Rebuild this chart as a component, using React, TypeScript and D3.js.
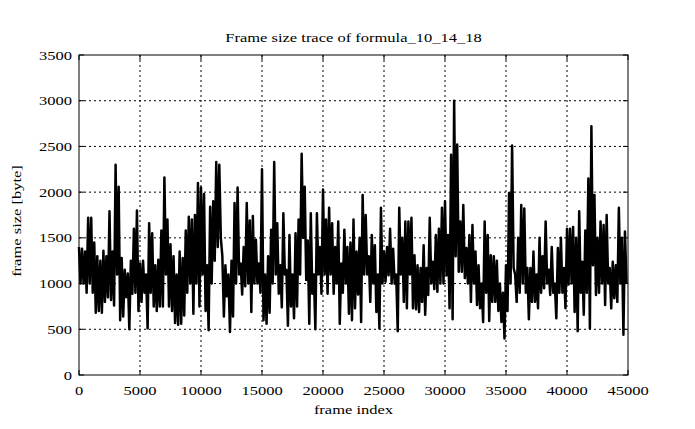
import React from 'react';
import * as d3 from 'd3';

const title = 'Frame size trace of formula_10_14_18';
const xLabel = 'frame index';
const yLabel = 'frame size [byte]';
const xTicks = [0, 5000, 10000, 15000, 20000, 25000, 30000, 35000, 40000, 45000];
const yTicks = [0, 500, 1000, 1500, 2000, 2500, 3000, 3500];

// The trace is read off the picture as, per block of 250 frames,
// the largest and the smallest frame size reached inside that block.
const blockFrames = 250;

const blockHigh = [
  1400, 1380, 1350, 1720, 1720, 1450, 1300, 1250, 1360, 1300,
  1790, 1350, 2300, 2060, 1280, 1150, 1110, 1250, 1600, 1800,
  1220, 1250, 1100, 1660, 1550, 1200, 1260, 1580, 2160, 1700,
  1430, 1300, 1100, 1350, 1280, 1580, 1730, 1700, 1750, 2100,
  2050, 1980, 1200, 1840, 1900, 2330, 2300, 1300, 1200, 1100,
  1250, 1880, 2050, 1220, 1400, 1880, 1690, 1740, 1480, 1220,
  2250, 1100, 1300, 1590, 2330, 1660, 1200, 1770, 1150, 1530,
  1100, 1550, 1700, 2420, 2060, 1470, 1770, 1100, 1770, 1400,
  2030, 1700, 1830, 1660, 1400, 1680, 1220, 1590, 1400, 1450,
  1700, 1350, 1500, 1970, 1750, 1300, 1530, 1420, 1100, 1830,
  1350, 1400, 1600, 1380, 1100, 1830, 1500, 1680, 1680, 1720,
  1310, 1200, 1170, 1420, 1170, 1720, 1240, 1530, 1600, 1830,
  1900, 1530, 2410, 3000, 2520, 1680, 1860, 1390, 1530, 1640,
  1350, 1200, 1000, 1680, 1530, 1310, 1300, 1250, 1000, 900,
  1200, 1990, 2510, 1100, 1500, 1860, 1820, 1170, 1170, 1350,
  1100, 1500, 1300, 1680, 1150, 1400, 1000, 1390, 1500, 1170,
  1600, 1600, 1620, 1500, 1790, 1240, 1580, 2150, 2720, 1970,
  1500, 1680, 1640, 1750, 1170, 1240, 1200, 1830, 1500, 1570,
];

const blockLow = [
  1000, 1000, 900, 1000, 900, 680, 700, 680, 800, 850,
  820, 760, 1100, 600, 640, 850, 500, 890, 900, 700,
  800, 900, 510, 900, 750, 700, 750, 750, 1100, 750,
  700, 570, 550, 560, 650, 900, 1000, 670, 1000, 750,
  1100, 700, 490, 1000, 1250, 1400, 1500, 640, 860, 470,
  640, 1000, 1100, 880, 970, 1000, 690, 1000, 1000, 900,
  600, 560, 680, 1000, 1100, 890, 740, 1100, 540, 750,
  620, 750, 1100, 1500, 1040, 560, 890, 500, 1100, 890,
  1100, 890, 1100, 890, 1000, 560, 900, 1000, 670, 600,
  730, 880, 580, 1100, 1100, 800, 1000, 690, 510, 1000,
  1020, 1090, 1000, 1000, 480, 1100, 800, 730, 1100, 730,
  720, 690, 800, 660, 875, 1000, 940, 910, 1000, 1000,
  1090, 730, 610, 1300, 1130, 1130, 1060, 1000, 800, 1000,
  765, 730, 580, 900, 590, 800, 800, 700, 580, 400,
  700, 1000, 1170, 800, 900, 1000, 900, 610, 800, 800,
  730, 900, 950, 1000, 875, 900, 620, 900, 900, 730,
  990, 1000, 690, 480, 900, 660, 900, 510, 1200, 875,
  900, 1000, 765, 1000, 729, 840, 800, 1000, 440, 1000,
];

const FONT = '"Liberation Serif", "Times New Roman", serif';
const FS = 13;
const SX = 1.27;

function StretchText(props: { x: number; y: number; anchor: string; text: string; rotate?: number }) {
  const { x, y, anchor, text, rotate } = props;
  const tf = `translate(${x},${y})${rotate ? ` rotate(${rotate})` : ''} scale(${SX},1)`;
  return (
    <text transform={tf} textAnchor={anchor} fontFamily={FONT} fontSize={FS} fill="#000">
      {text}
    </text>
  );
}

export default function App() {
  const W = 695;
  const H = 429;
  const L = 79, R = 628, T = 55, B = 375;
  const x = d3.scaleLinear().domain([0, 45000]).range([L, R]);
  const y = d3.scaleLinear().domain([0, 3500]).range([B, T]);

  // within each block the trace swings from its high to its low
  const data: [number, number][] = [];
  blockHigh.forEach((hi, i) => {
    data.push([i * blockFrames, hi]);
    data.push([i * blockFrames + blockFrames / 2, blockLow[i]]);
  });

  const line = d3.line<[number, number]>().x((d) => x(d[0])).y((d) => y(d[1]));
  const tick = 5;

  return (
    <svg width={W} height={H} style={{ position: 'absolute', left: 0, top: 0, background: '#fff' }}>
      <rect x={0} y={0} width={W} height={H} fill="#fff" />
      {xTicks.slice(1, -1).map((t) => (
        <line key={'gx' + t} x1={x(t)} x2={x(t)} y1={T} y2={B} stroke="#000" strokeWidth={1} strokeDasharray="2,3" />
      ))}
      {yTicks.slice(1, -1).map((t) => (
        <line key={'gy' + t} x1={L} x2={R} y1={y(t)} y2={y(t)} stroke="#000" strokeWidth={1} strokeDasharray="2,3" />
      ))}
      <path d={line(data) || ''} fill="none" stroke="#000" strokeWidth={2.5} strokeLinejoin="round" />
      {xTicks.map((t) => (
        <g key={'tx' + t}>
          <line x1={x(t)} x2={x(t)} y1={B} y2={B - tick} stroke="#000" />
          <line x1={x(t)} x2={x(t)} y1={T} y2={T + tick} stroke="#000" />
        </g>
      ))}
      {yTicks.map((t) => (
        <g key={'ty' + t}>
          <line x1={L} x2={L + tick} y1={y(t)} y2={y(t)} stroke="#000" />
          <line x1={R} x2={R - tick} y1={y(t)} y2={y(t)} stroke="#000" />
        </g>
      ))}
      <rect x={L} y={T} width={R - L} height={B - T} fill="none" stroke="#000" strokeWidth={1} />
      {xTicks.map((t) => (
        <StretchText key={'lx' + t} x={x(t)} y={B + 20} anchor="middle" text={String(t)} />
      ))}
      {yTicks.map((t) => (
        <StretchText key={'ly' + t} x={L - 7} y={y(t) + 4.5} anchor="end" text={String(t)} />
      ))}
      <StretchText x={(L + R) / 2} y={42} anchor="middle" text={title} />
      <StretchText x={(L + R) / 2} y={414} anchor="middle" text={xLabel} />
      <StretchText x={21} y={(T + B) / 2 + 6} anchor="middle" text={yLabel} rotate={-90} />
    </svg>
  );
}
